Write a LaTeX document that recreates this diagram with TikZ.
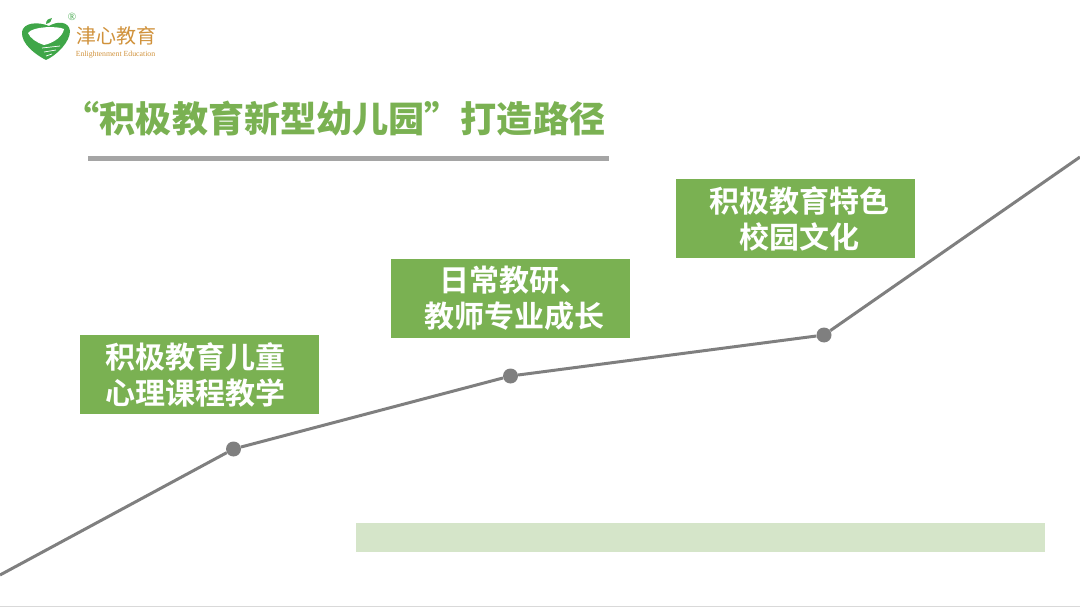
\documentclass[tikz,border=0pt]{standalone}
\usepackage{fontspec}
\setmainfont{Noto Sans CJK SC Bold}
\newfontfamily\titlefont{Noto Sans CJK SC Black}
\newfontfamily\logofont{Noto Sans CJK SC}
\newfontfamily\logolatin{Liberation Serif}
\definecolor{leafgreen}{HTML}{7AB152}
\definecolor{palegreen}{HTML}{D5E5C9}
\definecolor{linegray}{HTML}{7F7F7F}
\definecolor{rulegray}{HTML}{A5A5A5}
\definecolor{logogreen}{HTML}{3FA648}
\definecolor{logoorange}{HTML}{D0923C}
\newcommand{\nudge}[1]{\hspace*{#1pt}}
\tikzset{
	stagebox/.style={fill=leafgreen,text=white,minimum width=239pt,minimum height=79pt,
		inner sep=0pt,align=center,font=\fontsize{30}{36}\selectfont},
	stagedot/.style={circle,fill=linegray,minimum size=15pt,inner sep=0pt},
	trend/.style={linegray,line width=3pt}
}
\begin{document}
\begin{tikzpicture}[x=1pt,y=-1pt]
	\useasboundingbox (0,0) rectangle (1080,607);
	% logo
	\fill[logogreen] (46,60) .. controls (36,55) and (21,44) .. (22,32)
		.. controls (23,23) and (37,21) .. (49,26)
		.. controls (57,21) and (69,21) .. (70,31)
		.. controls (70,42) and (57,55) .. (46,60) -- cycle;
	\fill[white] (28,33) .. controls (33,26) and (58,26) .. (64,29)
		.. controls (63,36) and (54,43) .. (44,45)
		.. controls (37,43) and (30,38) .. (28,33) -- cycle;
	\fill[logogreen] (46,24) .. controls (46,20) and (49,18) .. (52,18)
		.. controls (52,21) and (50,23) .. (46,24) -- cycle;
	\draw[white,line width=.7pt] (42,48) -- (60,46) (44,52) -- (56,50) (46,56) -- (52,54);
	\node[text=logogreen,font=\logolatin\fontsize{11}{11}\selectfont,inner sep=0pt] (regmark) at (72,17) {®};
	\node[text=logoorange,font=\logofont\fontsize{20}{20}\selectfont,inner sep=0pt] (logoname) at (116,36) {津心教育};
	\node[text=logoorange,font=\logolatin\fontsize{7.8}{8}\selectfont,inner sep=0pt] (logoen) at (115.5,55) {Enlightenment Education};
	% title
	\node[text=leafgreen,font=\titlefont\fontsize{36.1}{40}\selectfont,inner sep=0pt,anchor=east] (title) at (605.5,119) {“积极教育新型幼儿园”打造路径};
	\fill[rulegray] (88,156) rectangle (608.5,161);
	% curve
	\coordinate (curvestart) at (0,575);
	\coordinate (curveend) at (1080,157);
	\node[stagedot] (p1) at (233.5,449) {};
	\node[stagedot] (p2) at (510.5,376) {};
	\node[stagedot] (p3) at (824,335) {};
	\draw[trend] (curvestart) edge (p1)
		(p1) edge (p2)
		(p2) edge (p3)
		(p3) edge (curveend)
		;
	% stages
	\node[stagebox] (stage1) at (199.5,374.5) {\nudge{-8}积极教育儿童\\\nudge{-8}心理课程教学};
	\node[stagebox] (stage2) at (510.5,298.5) {\nudge{7}日常教研、\\\nudge{8}教师专业成长};
	\node[stagebox] (stage3) at (795.5,218.5) {\nudge{8}积极教育特色\\\nudge{8}校园文化};
	\fill[palegreen] (356,523) rectangle (1045,552);
	\fill[gray!30] (0,605.5) rectangle (1080,607);
\end{tikzpicture}
\end{document}
